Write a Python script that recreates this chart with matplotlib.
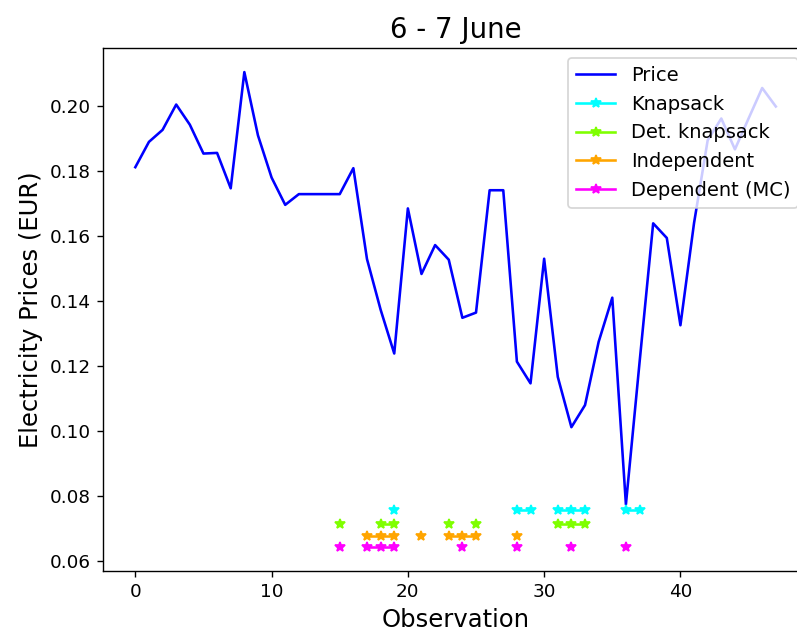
import numpy as np
import matplotlib
matplotlib.use("Agg")
import matplotlib.pyplot as plt

# hourly-ish prices, 6 - 7 June
price = [0.1812, 0.1890, 0.1927, 0.2005, 0.1943, 0.1854, 0.1856, 0.1747, 0.2105, 0.1910,
         0.1780, 0.1696, 0.1729, 0.1729, 0.1729, 0.1729, 0.1809, 0.1529, 0.1373, 0.1238,
         0.1685, 0.1483, 0.1572, 0.1527, 0.1348, 0.1364, 0.1741, 0.1741, 0.1213, 0.1146,
         0.1530, 0.1166, 0.1011, 0.1079, 0.1274, 0.1410, 0.0773, 0.1210, 0.1639, 0.1594,
         0.1325, 0.1640, 0.1895, 0.1962, 0.1867, 0.1962, 0.2056, 0.1999]

# observations picked by each method, drawn at a fixed level under the price curve
knapsack_obs = [19, 28, 29, 31, 32, 33, 36, 37]
det_knapsack_obs = [15, 18, 19, 23, 25, 31, 32, 33]
independent_obs = [17, 18, 19, 21, 23, 24, 25, 28]
dependent_obs = [15, 17, 18, 19, 24, 28, 32, 36]

knapsack_lvl = 0.0755
det_knapsack_lvl = 0.0714
independent_lvl = 0.0677
dependent_lvl = 0.0642


def mark_series(obs, lvl, n):  # nan everywhere except the chosen observations
    s = np.full(n, np.nan)
    s[obs] = lvl
    return s


n = len(price)
x = np.arange(n)

dpi = 124.5
fig = plt.figure(figsize=(797 / dpi, 637 / dpi), dpi=dpi)
ax = fig.add_axes([0.1296, 0.1041, 0.884, 0.820])

ax.plot(x, price, color="blue", label="Price")
ax.plot(x, mark_series(knapsack_obs, knapsack_lvl, n), "*-", color="cyan", label="Knapsack")
ax.plot(x, mark_series(det_knapsack_obs, det_knapsack_lvl, n), "*-", color="#7fff00", label="Det. knapsack")
ax.plot(x, mark_series(independent_obs, independent_lvl, n), "*-", color="orange", label="Independent")
ax.plot(x, mark_series(dependent_obs, dependent_lvl, n), "*-", color="magenta", label="Dependent (MC)")

ax.set_title("6 - 7 June", fontsize=16)
ax.set_xlabel("Observation", fontsize=14)
ax.set_ylabel("Electricity Prices (EUR)", fontsize=14)
ax.set_xticks([0, 10, 20, 30, 40])
ax.tick_params(labelsize=10.6)
ax.spines["right"].set_visible(False)  # falls outside the canvas in the original
ax.legend(loc="upper right", fontsize=11.3)

plt.savefig("out.png", dpi=dpi)
